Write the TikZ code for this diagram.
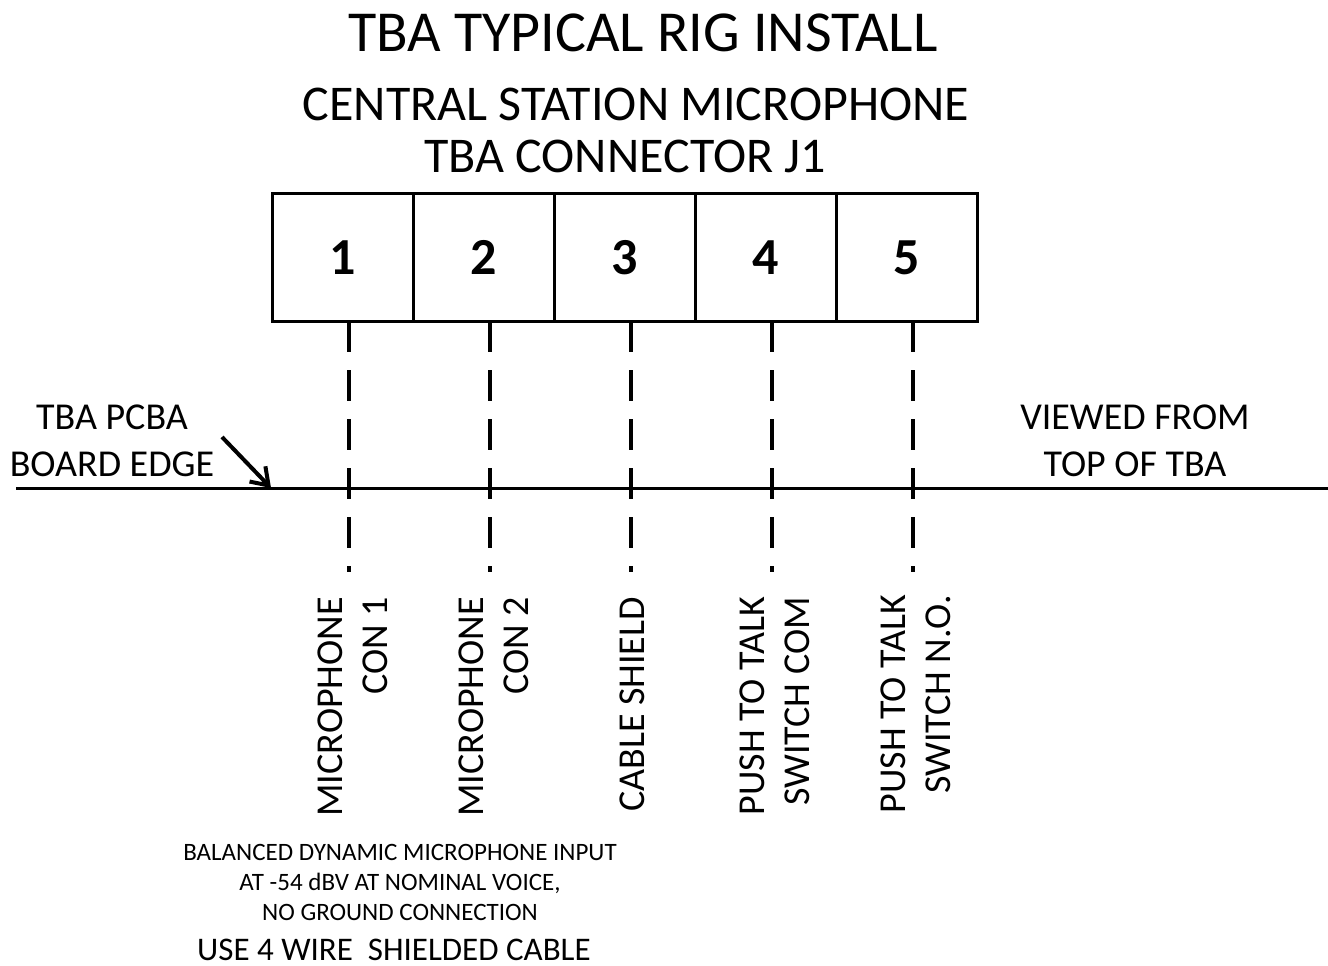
\documentclass[tikz,border=0pt]{standalone}
\usepackage{fontspec}
\setmainfont{Carlito}
\usetikzlibrary{arrows.meta}
\begin{document}
\begin{tikzpicture}[x=1pt,y=-1pt,
  cell/.style={draw,line width=3pt,minimum width=141pt,minimum height=128pt,inner sep=0pt,outer sep=0pt,text height=34pt,text depth=0pt,font=\fontsize{52}{60}\selectfont\bfseries},
  pinline/.style={line width=3.5pt,dash pattern=on 31pt off 18pt},
  edgeline/.style={line width=3pt},
  pointer/.style={line width=4pt,-{Straight Barb[length=16pt,width=22pt,line width=4pt]}},
  lbl/.style={font=\fontsize{38}{45}\selectfont,inner sep=0pt,anchor=base},
  pinlbl/.style={font=\fontsize{38}{45}\selectfont,inner sep=0pt,rotate=90,anchor=east,align=right},
  small/.style={font=\fontsize{25}{30}\selectfont,inner sep=0pt,anchor=base},
  head/.style={font=\fontsize{50}{60}\selectfont,inner sep=0pt,anchor=base}]
\useasboundingbox (0,0) rectangle (1328,966);

% titles
\node[font=\fontsize{58}{70}\selectfont,inner sep=0pt,anchor=base] (title) at (643,52) {TBA TYPICAL RIG INSTALL};
\node[head] (sub1) at (636,121) {CENTRAL STATION MICROPHONE};
\node[head] (sub2) at (625,172) {TBA CONNECTOR J1};

% connector cells
\foreach \i/\x in {1/342.5,2/483.5,3/624.5,4/765.5,5/906.5}{
  \node[cell] (c\i) at (\x,257) {\i};
}

% board edge
\coordinate (bl) at (16,488);
\coordinate (br) at (1328,488);
\draw[edgeline] (bl) -- (br);

% pin lines
\foreach \i/\x in {1/349,2/490,3/631,4/772,5/913}{
  \coordinate (d\i) at (\x,572);
  \draw[pinline] (c\i.south -| d\i) -- (d\i);
}

% board edge label and arrow
\node[lbl] (pcba) at (112,429) {TBA PCBA};
\node[lbl] (bedge) at (112,476) {BOARD EDGE};
\coordinate (as) at (222,437);
\coordinate (ae) at (271,488);
\draw[pointer] (as) -- (ae);

\node[lbl] (view1) at (1135,429) {VIEWED FROM};
\node[lbl] (view2) at (1135,476) {TOP OF TBA};

% pin labels
\node[pinlbl] (l1) at (353,597) {MICROPHONE\\CON 1};
\node[pinlbl] (l2) at (494,597) {MICROPHONE\\CON 2};
\node[pinlbl] (l3) at (632,597) {CABLE SHIELD};
\node[pinlbl] (l4) at (775,597) {PUSH TO TALK\\SWITCH COM};
\node[pinlbl] (l5) at (916,595) {PUSH TO TALK\\SWITCH N.O.};

% notes
\node[small] (n1) at (400,860) {BALANCED DYNAMIC MICROPHONE INPUT};
\node[small] (n2) at (400,890) {AT -54 dBV AT NOMINAL VOICE,};
\node[small] (n3) at (400,920) {NO GROUND CONNECTION};
\node[font=\fontsize{33}{40}\selectfont,inner sep=0pt,anchor=base] (n4) at (394,960) {USE 4 WIRE\ \ SHIELDED CABLE};
\end{tikzpicture}
\end{document}
